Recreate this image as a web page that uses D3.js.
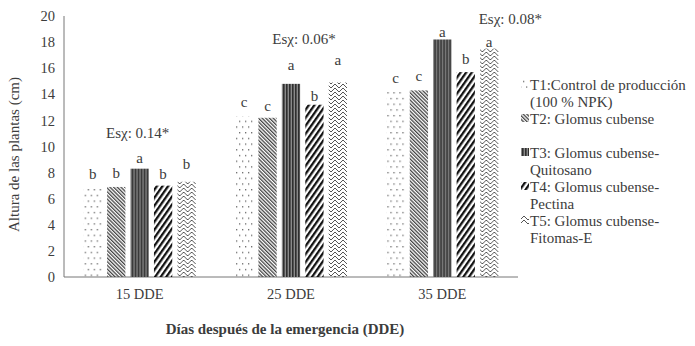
<!DOCTYPE html>
<html>
<head>
<meta charset="utf-8">
<script src="https://cdn.jsdelivr.net/npm/d3@7"></script>
<style>
  body { margin: 0; background: #fff; }
</style>
</head>
<body>
<svg id="chart" width="695" height="346"></svg>
<script>
// altura de las plantas por tratamiento y momento de evaluación
var days = ["15 DDE", "25 DDE", "35 DDE"]
var treatments = ["T1", "T2", "T3", "T4", "T5"]
var t1 = [6.9, 12.3, 14.4]
var t2 = [6.9, 12.2, 14.3]
var t3 = [8.3, 14.8, 18.2]
var t4 = [7.0, 13.2, 15.7]
var t5 = [7.3, 14.9, 17.5]
var letters = [
  ["b", "b", "a", "b", "b"],
  ["c", "c", "a", "b", "a"],
  ["c", "c", "a", "b", "a"]
]
var esx = ["Esχ: 0.14*", "Esχ: 0.06*", "Esχ: 0.08*"]
var yTicks = [0, 2, 4, 6, 8, 10, 12, 14, 16, 18, 20]
var legendLines = [
  ["T1:Control de producción", "(100 % NPK)"],
  ["T2: Glomus cubense"],
  ["T3: Glomus cubense-", "Quitosano"],
  ["T4: Glomus cubense-", "Pectina"],
  ["T5: Glomus cubense-", "Fitomas-E"]
]
var series = [t1, t2, t3, t4, t5]

// separación de cada letra sobre su barra (px), puestas a mano
var letterGap = [
  [8, 9, 6, 7, 13],
  [9, 7, 14, 4, 18],
  [6, 9, 2, 8, 2]
]

var FONT = "'Liberation Serif', 'Times New Roman', Times, 'DejaVu Serif', serif"
var INK = "#3c3c3c"

var svg = d3.select("#chart").attr("font-family", FONT)
var defs = svg.append("defs")

//* tramas de relleno (una por tratamiento)
var pDots = defs.append("pattern").attr("id", "pT1").attr("patternUnits", "userSpaceOnUse")
  .attr("width", 6).attr("height", 11.4)
pDots.append("rect").attr("x", 1).attr("y", 1).attr("width", 1.3).attr("height", 1.3).attr("fill", "#666")
pDots.append("rect").attr("x", 4).attr("y", 6.7).attr("width", 1.3).attr("height", 1.3).attr("fill", "#666")

var pFine = defs.append("pattern").attr("id", "pT2").attr("patternUnits", "userSpaceOnUse")
  .attr("width", 2.6).attr("height", 10).attr("patternTransform", "rotate(-45)")
pFine.append("rect").attr("width", 1.3).attr("height", 10).attr("fill", "#444")

var pVert = defs.append("pattern").attr("id", "pT3").attr("patternUnits", "userSpaceOnUse")
  .attr("width", 3).attr("height", 10)
pVert.append("rect").attr("width", 3).attr("height", 10).attr("fill", "#8a8a8a")
pVert.append("rect").attr("width", 1.6).attr("height", 10).attr("fill", "#2e2e2e")

var pThick = defs.append("pattern").attr("id", "pT4").attr("patternUnits", "userSpaceOnUse")
  .attr("width", 4.6).attr("height", 10).attr("patternTransform", "rotate(35)")
pThick.append("rect").attr("width", 2.3).attr("height", 10).attr("fill", "#111")

var pWeave = defs.append("pattern").attr("id", "pT5").attr("patternUnits", "userSpaceOnUse")
  .attr("width", 8).attr("height", 8)
pWeave.append("path").attr("d", "M0,4 L4,0 L8,4 M0,8 L4,4 M4,4 L6,6 M2,6 L0,8 M8,8 L6,6")
  .attr("fill", "none").attr("stroke", "#555").attr("stroke-width", 1)

//* scale
var y = d3.scaleLinear().domain([0, 20]).range([277, 16])
var x0 = d3.scaleBand().domain(days).range([64, 518]).paddingInner(0.26).paddingOuter(0.13)
var x1 = d3.scaleBand().domain(treatments).range([0, x0.bandwidth()]).paddingInner(0.22)

function txt(sel, size) {
  return sel.attr("font-size", size).attr("fill", INK).style("font-family", FONT)
}

// eje y: solo la línea y las etiquetas
var yAxis = svg.append("g").attr("transform", "translate(64,0)")
  .call(d3.axisLeft(y).tickValues(yTicks).tickSize(0).tickPadding(9))
yAxis.attr("font-family", null)
yAxis.select(".domain").attr("stroke", "#777").attr("d", "M0," + y(20) + "V" + y(0))
txt(yAxis.selectAll("text"), 14.5)

var xAxis = svg.append("g").attr("transform", "translate(0," + y(0) + ")")
  .call(d3.axisBottom(x0).tickSize(0).tickPadding(12))
xAxis.attr("font-family", null)
xAxis.select(".domain").attr("stroke", "#777").attr("d", "M64,0H518")
txt(xAxis.selectAll("text"), 14.5)

//* barras
var groups = svg.selectAll("g.day").data(days).enter().append("g").attr("class", "day")
  .attr("transform", d => "translate(" + x0(d) + ",0)")

groups.each(function(day, di) {
  var g = d3.select(this)
  treatments.forEach((t, ti) => {
    var v = series[ti][di]
    g.append("rect")
      .attr("x", x1(t)).attr("y", y(v))
      .attr("width", x1.bandwidth()).attr("height", y(0) - y(v))
      .attr("fill", "url(#p" + t + ")")
    txt(g.append("text"), 15)
      .attr("x", x1(t) + x1.bandwidth() / 2).attr("y", y(v) - letterGap[di][ti])
      .attr("text-anchor", "middle")
      .text(letters[di][ti])
  })
})

// anotaciones del error estándar por fecha
var esxPlace = [{dx: -2, v: 11.05}, {dx: 13, v: 18.2}, {dx: 68, v: 19.8}]
esx.forEach((s, i) => {
  txt(svg.append("text"), 15)
    .attr("x", x0(days[i]) + x0.bandwidth() / 2 + esxPlace[i].dx)
    .attr("y", y(esxPlace[i].v) + 5)
    .attr("text-anchor", "middle")
    .text(s)
})

//* leyenda
var legY = [85, 119, 153, 187, 221]
legendLines.forEach((lines, i) => {
  var ly = legY[i]
  svg.append("rect").attr("x", 521).attr("y", ly - 5).attr("width", 8).attr("height", 8)
    .attr("fill", "url(#p" + treatments[i] + ")")
  lines.forEach((l, k) => {
    txt(svg.append("text"), 15).attr("x", 530).attr("y", ly + 5 + k * 16.5).text(l)
  })
})

// títulos de ejes
txt(svg.append("text"), 15)
  .attr("transform", "translate(19," + ((y(0) + y(20)) / 2 + 8) + ") rotate(-90)")
  .attr("text-anchor", "middle")
  .text("Altura de las plantas (cm)")

txt(svg.append("text"), 15)
  .attr("x", 285).attr("y", 334)
  .attr("text-anchor", "middle").attr("font-weight", "bold")
  .text("Días después de la emergencia (DDE)")
</script>
</body>
</html>
